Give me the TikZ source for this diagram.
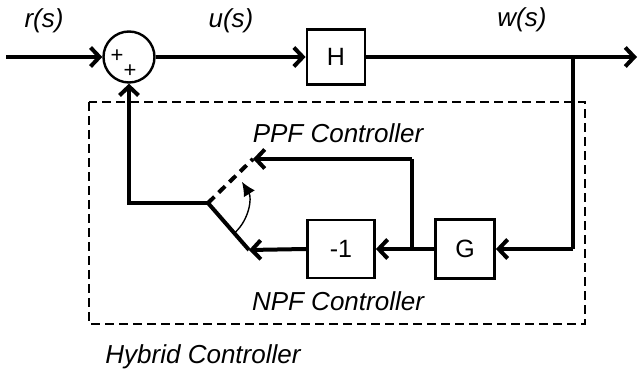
\documentclass[tikz,border=0pt]{standalone}
\usepackage{fontspec}
\setmainfont{Liberation Sans}
\usetikzlibrary{arrows.meta}
\begin{document}
\begin{tikzpicture}[x=1pt,y=-1pt,
  sig/.style={line width=4pt, -{Straight Barb[length=9pt,width=19pt,line width=4pt]}},
  wire/.style={line width=4pt},
  blk/.style={draw, line width=2.8pt, minimum width=58pt, minimum height=55pt, inner sep=0pt, font=\fontsize{25}{25}\selectfont},
  lbl/.style={font=\fontsize{26}{26}\selectfont\itshape, inner sep=0pt},
  sgn/.style={font=\fontsize{22}{22}\selectfont, inner sep=0pt}]
\useasboundingbox (0,0) rectangle (638,371);

% forward path
\node[draw, circle, line width=2.4pt, minimum size=51pt, inner sep=0pt] (sum) at (129,57) {};
\node[sgn] (p1) at (117,56) {+};
\node[sgn] (p2) at (130,71) {+};
\node[blk] (H) at (336,57) {H};
\coordinate (in) at (6,57);
\coordinate (out) at (637,57);
\coordinate (br) at (573,57);

\draw[sig] (in) -- (sum.west);
\draw[sig] (sum.east) -- (H.west);
\draw[sig] (H.east) -- (out);

\node[lbl] (r) at (44,21) {r(s)};
\node[lbl] (u) at (231,21) {u(s)};
\node[lbl] (w) at (522,20) {w(s)};

% controller blocks
\node[blk, minimum width=59pt, minimum height=59pt] (G) at (465,249) {G};
\node[blk, minimum width=67pt, minimum height=58pt] (neg) at (341,249) {-1};

\coordinate (brG) at (573,249);
\coordinate (pp) at (412,249);
\coordinate (ppTop) at (412,159);
\coordinate (ppEnd) at (253,159);
\coordinate (npEnd) at (249,250);
\coordinate (pivot) at (208,203);
\coordinate (fb) at (129,203);

\draw[wire] (br) -- (brG);
\draw[sig] (brG) -- (G.east);
\draw[sig] (G.west) -- (neg.east);
\draw[sig] (neg.west) -- (npEnd);
\draw[wire] (pp) -- (ppTop);
\draw[sig] (ppTop) -- (ppEnd);

% switch
\draw[wire] (pivot) -- (npEnd);
\draw[wire, dash pattern=on 9pt off 6pt] (pivot) -- (ppEnd);
\draw[sig] (pivot) -- (fb) -- (sum.south);
\draw[line width=1.4pt, -{Latex[length=14pt,width=13pt]}] (pivot) ++(-47:40pt) arc[start angle=-47, end angle=32, radius=40pt];

% hybrid controller frame
\draw[line width=2.2pt, dash pattern=on 9pt off 5pt] (89,102) rectangle (585,324);

\node[lbl] (ppf) at (338,133) {PPF Controller};
\node[lbl] (npf) at (338,301) {NPF Controller};
\node[lbl] (hyb) at (203,357) {Hybrid Controller};
\end{tikzpicture}
\end{document}
